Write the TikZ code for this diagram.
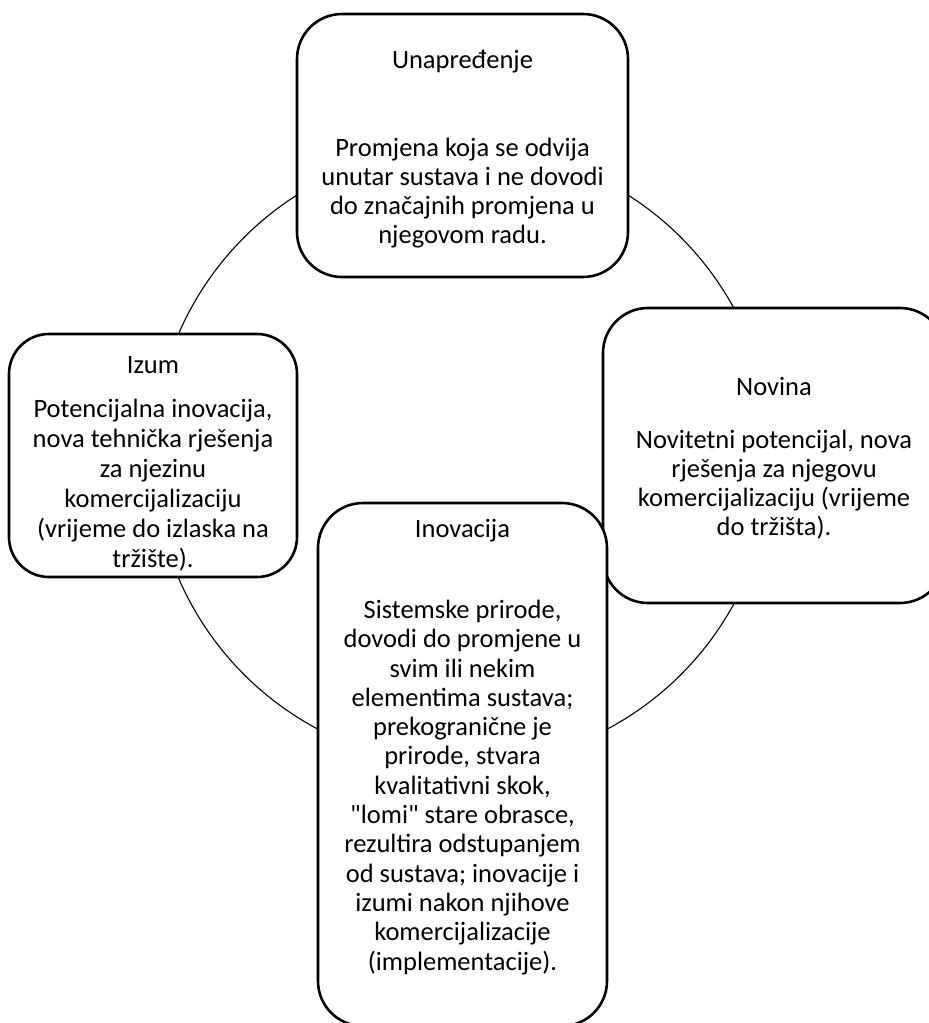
\documentclass[tikz,border=0pt]{standalone}
\usepackage{fontspec}
\newfontfamily\carl{Carlito}
\begin{document}
\begin{tikzpicture}[x=1pt,y=-1pt,
  box/.style={draw, line width=2.6pt, fill=white, rounded corners=45pt, inner sep=0pt},
  ring/.style={draw, line width=1.1pt, circle, inner sep=0pt},
  txt/.style={font=\carl\fontsize{26.5}{29.3}\selectfont, align=center, inner sep=0pt, anchor=base}]
\clip (0,0) rectangle (929,1023);
\node[ring, minimum size=618pt] (ringc) at (462.5,456) {};
% boxes
\node[box, minimum width=331pt, minimum height=263pt] (top) at (462.5,145.5) {};
\node[box, rounded corners=40pt, minimum width=288pt, minimum height=243pt] (left) at (153,455.5) {};
\node[box, minimum width=342pt, minimum height=295pt] (right) at (774,455.5) {};
\node[box, minimum width=289pt, minimum height=523pt] (bottom) at (462.5,764.5) {};
% texts (base = baseline of last line)
\node[txt] (topH) at (462.5,68) {Unapređenje};
\node[txt, font=\carl\fontsize{26.5}{28.7}\selectfont] (topB) at (462.5,243) {Promjena koja se odvija\\unutar sustava i ne dovodi\\do značajnih promjena u\\njegovom radu.};
\node[txt] (leftH) at (153,373) {Izum};
\node[txt, font=\carl\fontsize{26.5}{30}\selectfont] (leftB) at (153,567) {Potencijalna inovacija,\\nova tehnička rješenja\\za njezinu\\komercijalizaciju\\(vrijeme do izlaska na\\tržište).};
\node[txt] (rightH) at (774,395) {Novina};
\node[txt, font=\carl\fontsize{26.5}{29}\selectfont] (rightB) at (774,535) {Novitetni potencijal, nova\\rješenja za njegovu\\komercijalizaciju (vrijeme\\do tržišta).};
\node[txt] (bottomH) at (462.5,537) {Inovacija};
\node[txt] (bottomB) at (462.5,970) {Sistemske prirode,\\dovodi do promjene u\\svim ili nekim\\elementima sustava;\\prekogranične je\\prirode, stvara\\kvalitativni skok,\\"lomi" stare obrasce,\\rezultira odstupanjem\\od sustava; inovacije i\\izumi nakon njihove\\komercijalizacije\\(implementacije).};
\end{tikzpicture}
\end{document}
